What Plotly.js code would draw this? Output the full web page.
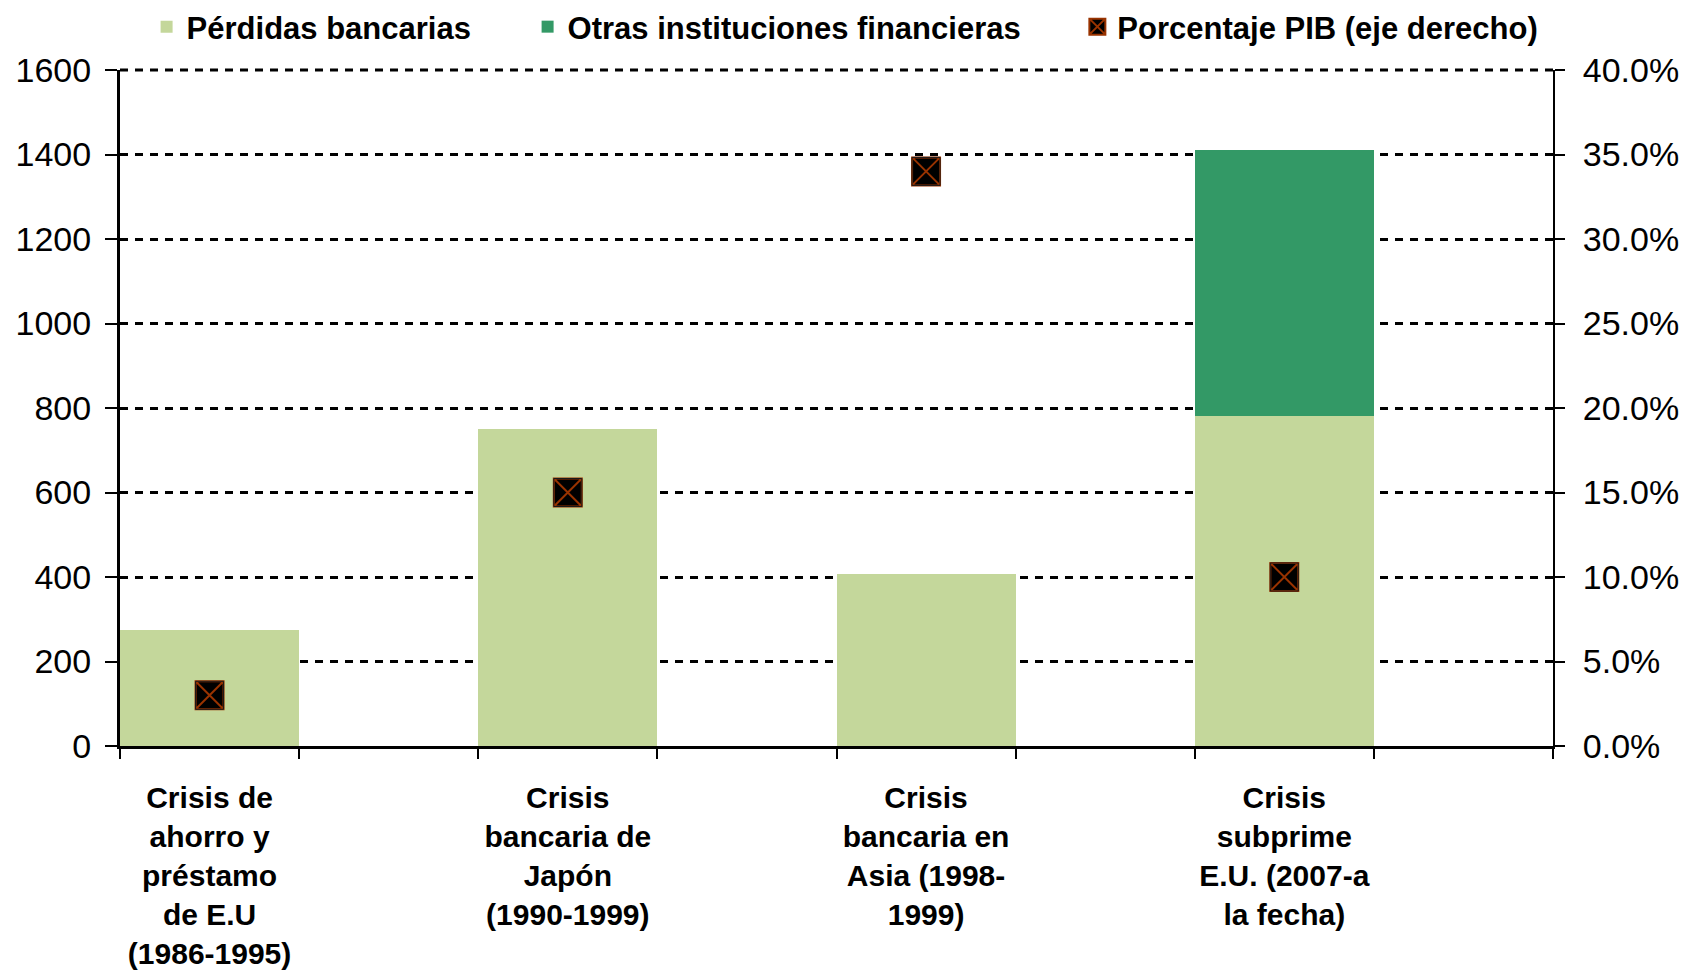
<!DOCTYPE html>
<html>
<head>
<meta charset="utf-8">
<script src="https://cdn.plot.ly/plotly-3.0.1.min.js"></script>
<style>
  html, body { margin: 0; padding: 0; background: #ffffff; }
  #chart { width: 1688px; height: 973px; }
</style>
</head>
<body>
<div id="chart"></div>
<script>
// ---- Data ----
const categories = [
  "Crisis de<br>ahorro y<br>préstamo<br>de E.U<br>(1986-1995)",
  "Crisis<br>bancaria de<br>Japón<br>(1990-1999)",
  "Crisis<br>bancaria en<br>Asia (1998-<br>1999)",
  "Crisis<br>subprime<br>E.U. (2007-a<br>la fecha)"
];
const bankLosses = [275, 750, 408, 780];
const otherInstitutions = [0, 0, 0, 630];
const gdpPercent = [0.03, 0.15, 0.34, 0.10];
const seriesNames = ["Pérdidas bancarias", "Otras instituciones financieras", "Porcentaje PIB (eje derecho)"];

// ---- Layout helpers (each crisis occupies every other slot of the axis) ----
const xPos = categories.map((_, i) => 2 * i);
const nSlots = categories.length * 2;
const slotEdges = Array.from({length: nSlots + 1}, (_, i) => i - 0.5);
const legendPad = "\u00a0".repeat(6);

const FONT = "Liberation Sans, Arial, sans-serif";
const GRID_DASH = "8px,7px";

const traces = [
  {
    type: "bar", name: seriesNames[0] + legendPad, x: xPos, y: bankLosses,
    marker: {color: "#c4d79b", line: {width: 0}}, width: 1
  },
  {
    type: "bar", name: seriesNames[1] + legendPad, x: xPos, y: otherInstitutions,
    marker: {color: "#339966", line: {width: 0}}, width: 1
  },
  {
    type: "scatter", mode: "markers", name: seriesNames[2], x: xPos, y: gdpPercent, yaxis: "y2",
    marker: {symbol: "square-x", size: 28, color: "#000000", line: {color: "#993300", width: 2}}
  },
  {
    type: "scatter", mode: "markers", name: seriesNames[2], x: xPos, y: gdpPercent, yaxis: "y2",
    showlegend: false, hoverinfo: "skip",
    marker: {symbol: "square-open", size: 28, color: "#1a1a1a", line: {color: "#1a1a1a", width: 1}}
  }
];

const layout = {
  width: 1688, height: 973,
  paper_bgcolor: "#ffffff", plot_bgcolor: "#ffffff",
  margin: {l: 120, r: 135, t: 70, b: 227, autoexpand: false},
  barmode: "stack", bargap: 0,
  font: {family: FONT, color: "#000000", size: 34},
  showlegend: true,
  legend: {
    orientation: "h", traceorder: "normal",
    x: 0.506, xanchor: "center", y: 1.0636, yanchor: "middle",
    font: {family: FONT, size: 31, weight: "bold", color: "#000000"},
    bgcolor: "rgba(0,0,0,0)", itemclick: false
  },
  shapes: [
    {type: "line", xref: "paper", yref: "paper", x0: 0, x1: 1, y0: 1, y1: 1,
     line: {color: "#000000", width: 3, dash: GRID_DASH}, layer: "below"}
  ],
  xaxis: {
    range: [-0.5, nSlots - 0.5],
    tickmode: "array", tickvals: xPos, ticktext: categories,
    ticks: "", ticklabelstandoff: 23,
    tickfont: {family: FONT, size: 30, weight: "bold", color: "#000000"},
    showline: true, linecolor: "#000000", linewidth: 3,
    showgrid: false, zeroline: false,
    minor: {tickmode: "array", tickvals: slotEdges, ticks: "outside", ticklen: 10, tickwidth: 2, tickcolor: "#000000", showgrid: false}
  },
  yaxis: {
    range: [0, 1600], dtick: 200, tick0: 0,
    tickfont: {family: FONT, size: 34, color: "#000000"},
    ticks: "outside", ticklen: 12, tickwidth: 2, tickcolor: "#000000",
    ticklabelstandoff: 7,
    showline: true, linecolor: "#000000", linewidth: 3,
    showgrid: true, gridcolor: "#000000", gridwidth: 3, griddash: GRID_DASH,
    zeroline: false
  },
  yaxis2: {
    overlaying: "y", side: "right",
    range: [0, 0.4], dtick: 0.05, tick0: 0, tickformat: ".1%",
    tickfont: {family: FONT, size: 34, color: "#000000"},
    ticks: "outside", ticklen: 10, tickwidth: 2, tickcolor: "#000000",
    ticklabelstandoff: 11,
    showline: true, linecolor: "#000000", linewidth: 2,
    showgrid: false, zeroline: false
  }
};

Plotly.newPlot("chart", traces, layout, {displayModeBar: false, staticPlot: true});
</script>
</body>
</html>
